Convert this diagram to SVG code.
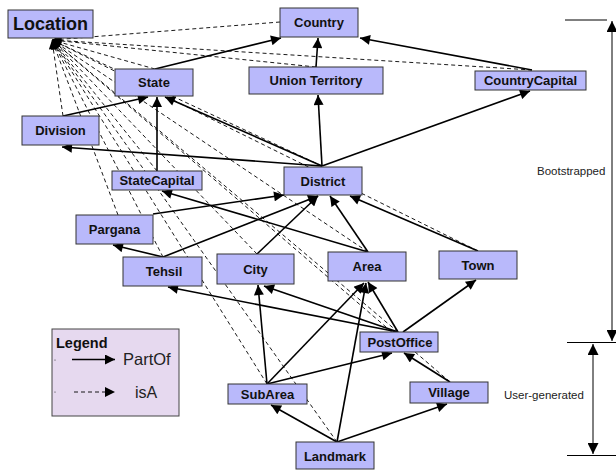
<svg xmlns="http://www.w3.org/2000/svg" width="616" height="470" viewBox="0 0 616 470">
<style>
.node rect{fill:#b9b9fb;stroke:#333;stroke-width:1}
.node text{font-family:"Liberation Sans",Arial,sans-serif;font-weight:bold;font-size:13px;fill:#111;text-anchor:middle;dominant-baseline:central}
.p{stroke:#000;stroke-width:1.6;fill:none;marker-end:url(#ah)}
.i{stroke:#000;stroke-width:0.9;fill:none;stroke-dasharray:4 3;marker-end:url(#ahs)}
.lbl{font-family:"Liberation Sans",Arial,sans-serif;font-size:11.5px;fill:#222}
.br{stroke:#000;stroke-width:1;fill:none}
</style>
<defs>
<marker id="ah" viewBox="0 0 10 10" refX="10" refY="5" markerWidth="12" markerHeight="10" markerUnits="userSpaceOnUse" orient="auto"><path d="M0,0 L10,5 L0,10 z" fill="#000"/></marker>
<marker id="ahs" viewBox="0 0 10 10" refX="10" refY="5" markerWidth="11" markerHeight="9" markerUnits="userSpaceOnUse" orient="auto"><path d="M0,0 L10,5 L0,10 z" fill="#000"/></marker>
<marker id="ahd" viewBox="0 0 10 10" refX="10" refY="5" markerWidth="13" markerHeight="11" markerUnits="userSpaceOnUse" orient="auto-start-reverse"><path d="M0,0 L10,5 L0,10 z" fill="#000"/></marker>
</defs>
<rect width="616" height="470" fill="#fff"/>
<g id="connectors">
<path class="i" d="M280,22 L52,40"/>
<path class="i" d="M316,67 L52,40"/>
<path class="i" d="M532,70 L52,40"/>
<path class="i" d="M155,69 L52,40"/>
<path class="i" d="M63,116 L52,40"/>
<path class="i" d="M157,171 L52,40"/>
<path class="i" d="M322,166 L52,40"/>
<path class="i" d="M118,215 L52,40"/>
<path class="i" d="M163,257 L52,40"/>
<path class="i" d="M257,254 L52,40"/>
<path class="i" d="M368,252 L52,40"/>
<path class="i" d="M478,251 L52,40"/>
<path class="i" d="M398,332 L52,40"/>
<path class="i" d="M267,384 L52,40"/>
<path class="i" d="M450,382 L52,40"/>
<path class="i" d="M337,442 L52,40"/>
<path class="p" d="M155,69 L281,38"/>
<path class="p" d="M316,67 L318,38"/>
<path class="p" d="M532,70 L360,38"/>
<path class="p" d="M322,166 L165,97"/>
<path class="p" d="M322,166 L318,95"/>
<path class="p" d="M322,166 L530,91"/>
<path class="p" d="M322,166 L62,147"/>
<path class="p" d="M63,116 L148,97"/>
<path class="p" d="M157,171 L157,97"/>
<path class="p" d="M368,252 L162,191"/>
<path class="p" d="M368,252 L330,196"/>
<path class="p" d="M153,214 L284,195"/>
<path class="p" d="M163,257 L113,245"/>
<path class="p" d="M163,257 L318,196"/>
<path class="p" d="M257,254 L318,196"/>
<path class="p" d="M478,251 L350,196"/>
<path class="p" d="M398,332 L168,287"/>
<path class="p" d="M398,332 L264,286"/>
<path class="p" d="M398,332 L368,282"/>
<path class="p" d="M403,332 L476,280"/>
<path class="p" d="M267,384 L258,285"/>
<path class="p" d="M267,384 L364,283"/>
<path class="p" d="M267,384 L392,353"/>
<path class="p" d="M337,442 L366,283"/>
<path class="p" d="M337,442 L271,405"/>
<path class="p" d="M337,442 L447,404"/>
<path class="p" d="M450,382 L404,353"/>
</g>
<g id="Location" class="node"><rect x="8" y="10" width="85" height="28"/><text x="50.5" y="24" style="font-size:18px">Location</text></g>
<g id="Country" class="node"><rect x="280" y="8" width="78" height="29"/><text x="319" y="22.5">Country</text></g>
<g id="State" class="node"><rect x="115" y="69" width="78" height="27"/><text x="154" y="82.5">State</text></g>
<g id="UnionTerritory" class="node"><rect x="249" y="67" width="134" height="27"/><text x="316" y="80.5">Union Territory</text></g>
<g id="CountryCapital" class="node"><rect x="475" y="71" width="111" height="19"/><text x="530.5" y="80.5">CountryCapital</text></g>
<g id="Division" class="node"><rect x="22" y="116" width="77" height="29"/><text x="60.5" y="130.5">Division</text></g>
<g id="StateCapital" class="node"><rect x="112" y="171" width="90" height="19"/><text x="157" y="180.5">StateCapital</text></g>
<g id="District" class="node"><rect x="284" y="167" width="78" height="28"/><text x="323" y="181">District</text></g>
<g id="Pargana" class="node"><rect x="76" y="215" width="77" height="29"/><text x="114.5" y="229.5">Pargana</text></g>
<g id="Tehsil" class="node"><rect x="123" y="257" width="79" height="29"/><text x="164" y="271.5">Tehsil</text></g>
<g id="City" class="node"><rect x="217" y="254" width="77" height="30"/><text x="255.5" y="269">City</text></g>
<g id="Area" class="node"><rect x="328" y="252" width="78" height="29"/><text x="367" y="266.5">Area</text></g>
<g id="Town" class="node"><rect x="439" y="251" width="78" height="28"/><text x="478" y="265">Town</text></g>
<g id="PostOffice" class="node"><rect x="360" y="332" width="78" height="20"/><text x="400" y="342">PostOffice</text></g>
<g id="SubArea" class="node"><rect x="228" y="384" width="79" height="20"/><text x="267.5" y="394">SubArea</text></g>
<g id="Village" class="node"><rect x="410" y="382" width="78" height="21"/><text x="449" y="392.5">Village</text></g>
<g id="Landmark" class="node"><rect x="296" y="442" width="78" height="27"/><text x="335" y="456">Landmark</text></g>
<g id="legend">
<rect x="52" y="329" width="127" height="87" fill="#e6d9ef" stroke="#444" stroke-width="1"/>
<text x="56" y="348" style="font-family:'Liberation Sans',Arial,sans-serif;font-weight:bold;font-size:14.5px" fill="#111">Legend</text>
<circle cx="55" cy="360" r="0.6" fill="#333"/>
<circle cx="55" cy="392" r="0.6" fill="#333"/>
<path d="M72,359.5 L115,359.5" stroke="#000" stroke-width="1.6" marker-end="url(#ah)"/>
<text x="123" y="365" style="font-family:'Liberation Sans',Arial,sans-serif;font-size:16.5px" fill="#222">PartOf</text>
<path d="M74,392 L115,392" stroke="#000" stroke-width="0.9" stroke-dasharray="4 3" marker-end="url(#ah)"/>
<text x="135" y="398" style="font-family:'Liberation Sans',Arial,sans-serif;font-size:16px" fill="#222">isA</text>
</g>
<g id="phases">
<path class="br" d="M565,20 L607,20"/>
<path class="br" d="M612,21 L612,341" stroke-width="1.5" marker-start="url(#ahd)" marker-end="url(#ahd)"/>
<path class="br" d="M567,342.5 L616,342.5"/>
<path class="br" d="M593,344 L593,454" stroke-width="1.5" marker-start="url(#ahd)" marker-end="url(#ahd)"/>
<path class="br" d="M567,455.5 L616,455.5"/>
<text class="lbl" x="537" y="175">Bootstrapped</text>
<text class="lbl" x="504" y="399">User-generated</text>
</g>
</svg>
